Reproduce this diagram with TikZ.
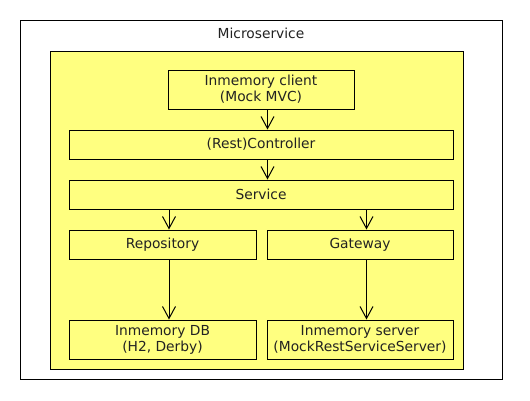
\documentclass[tikz,border=0pt]{standalone}
\usepackage{fontspec}
\setmainfont{DejaVu Sans}
\usetikzlibrary{arrows.meta}

\definecolor{boxyellow}{RGB}{255,255,128}
\definecolor{textgray}{RGB}{34,34,34}

\begin{document}
\begin{tikzpicture}[x=1pt,y=-1pt,
  font=\fontsize{13.8}{16}\selectfont,
  frame/.style={draw=black,line width=1pt,inner sep=0pt},
  layer/.style={frame,fill=boxyellow,text=textgray,align=center,minimum width=#1,minimum height=29pt},
  tall/.style={minimum height=39pt},
  call/.style={draw=black,line width=1pt,-{Straight Barb[length=12pt,width=13pt]}}]

  \useasboundingbox (0,0) rectangle (530,400);

% microservice frame and yellow test area
  \node[frame,minimum width=482pt,minimum height=359pt] (micro) at (261,199.5) {};
  \node[text=textgray] (title) at (261,33) {Microservice};
  \node[frame,fill=boxyellow,minimum width=413pt,minimum height=318pt] (area) at (256.5,210) {};

% layers
  \node[layer=186pt,tall] (client)  at (261,89.5)    {Inmemory client\\(Mock MVC)};
  \node[layer=384pt]      (ctrl)    at (261,144.5)   {(Rest)Controller};
  \node[layer=384pt]      (service) at (261,194.5)   {Service};
  \node[layer=187pt]      (repo)    at (162.5,244.5) {Repository};
  \node[layer=186pt]      (gateway) at (360,244.5)   {Gateway};
  \node[layer=187pt,tall] (db)      at (162.5,339.5) {Inmemory DB\\(H2, Derby)};
  \node[layer=186pt,tall] (server)  at (360,339.5)   {Inmemory server\\(MockRestServiceServer)};

% arrow entry points, a bit right of the box centres
  \coordinate (ctrlin)   at ([xshift=6.5pt]ctrl.north);
  \coordinate (repoin)   at ([xshift=6.5pt]repo.north);
  \coordinate (gatein)   at ([xshift=6.5pt]gateway.north);
  \coordinate (dbin)     at ([xshift=6.5pt]db.north);
  \coordinate (serverin) at ([xshift=6.5pt]server.north);

% calls between the layers
  \draw[call] (client.south -| ctrlin) -- (ctrlin);
  \draw[call] (ctrl.south -| ctrlin) -- (service.north -| ctrlin);
  \draw[call] (service.south -| repoin) -- (repoin);
  \draw[call] (service.south -| gatein) -- (gatein);
  \draw[call] (repo.south -| dbin) -- (dbin);
  \draw[call] (gateway.south -| serverin) -- (serverin);

\end{tikzpicture}
\end{document}
